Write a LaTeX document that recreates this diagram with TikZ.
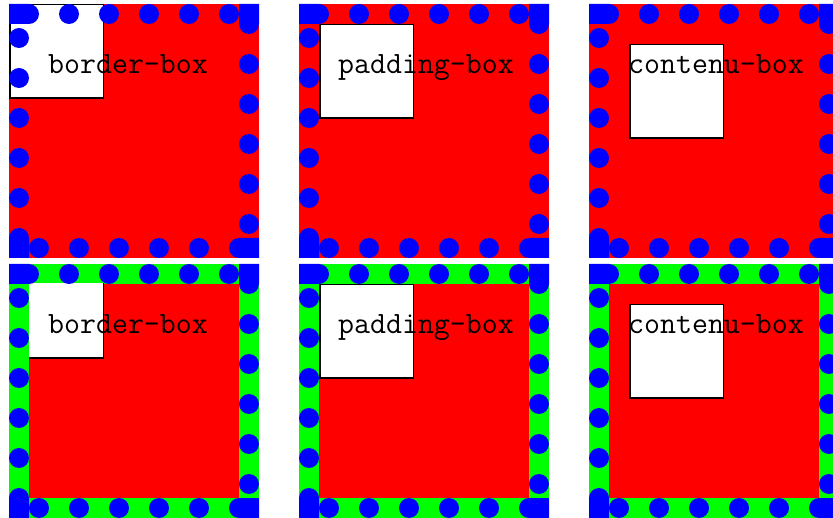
\documentclass[tikz,border=0pt]{standalone}
\usepackage{tikz}

\begin{document}
\begin{tikzpicture}[x=1pt, y=-1pt,
    imgbox/.style={draw=black, fill=white, line width=1.5pt},
    lbl/.style={inner sep=0pt, anchor=base west, font=\fontsize{31}{31}\selectfont\ttfamily}]
    \fill[white] (0,0) rectangle (833,518);
    \useasboundingbox (0,0) rectangle (833,518);
    \foreach \px/\lab/\off [count=\i] in {9/border-box/0, 299/padding-box/20, 589/contenu-box/40} {
        % Top row: background under the border
        \fill[red] (\px,4) rectangle ++(250,254);
        \draw[imgbox] (\px+\off+0.75,4+\off+0.75) rectangle ++(93.5,93.5);
        % Bottom row: background clipped to the padding box
        \fill[green] (\px,264) rectangle ++(250,254);
        \fill[red] (\px+20,284) rectangle ++(210,214);
        \begin{scope}
            \clip (\px+20,284) rectangle ++(210,214);
            \draw[imgbox] (\px+\off+0.75,264+\off+0.75) rectangle ++(93.5,93.5);
        \end{scope}
        % Dotted borders
        \foreach \py in {4,264} {
            \fill[blue] (\px,\py) rectangle ++(20,20) (\px+230,\py) rectangle ++(20,20)
                (\px,\py+234) rectangle ++(20,20) (\px+230,\py+234) rectangle ++(20,20);
            \foreach \k in {0,...,5} {
                \fill[blue] (\px+20+40*\k,\py+10) circle (10)
                    (\px+240,\py+20+40*\k) circle (10)
                    (\px+230-40*\k,\py+244) circle (10)
                    (\px+10,\py+234-40*\k) circle (10);
            }
        }
        % Labels
        \node[lbl] (top\i) at (\px+39,74) {\lab};
        \node[lbl] (bot\i) at (\px+39,334) {\lab};
    }
\end{tikzpicture}
\end{document}
